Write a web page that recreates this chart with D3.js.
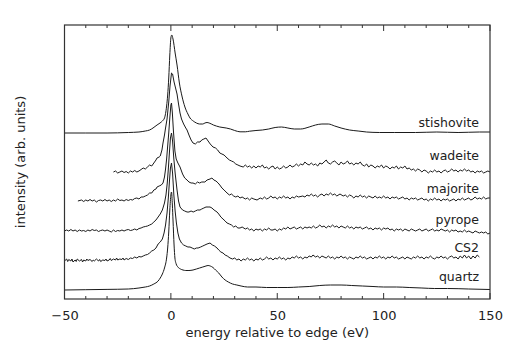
<!DOCTYPE html>
<html><head><meta charset="utf-8">
<script src="https://cdn.jsdelivr.net/npm/d3@7"></script>
<style>body{margin:0;background:#fff}svg{display:block}text{font-family:"DejaVu Sans",Verdana,sans-serif;fill:#222}</style>
</head><body><svg id="c" width="522" height="361"></svg>
<script>
// ---- data (energy eV, intensity relative to each spectrum's baseline) ----
const xTicks = [-50, 0, 50, 100, 150];
const seriesNames = ["stishovite", "wadeite", "majorite", "pyrope", "CS2", "quartz"];
const offsets = [166, 127, 98, 68, 38, 9];
const smooth = [true, false, false, false, false, true];

const stishovite = [[-50,0],[-40,0],[-30,0],[-20,0.5],[-15,1],[-12,2],[-10,3],[-8.4,5],[-6.5,8],[-5.1,10],[-4,12],[-3,15],[-2,27],[-1.5,38],[-1,55],[-0.5,78],[0,95],[0.4,98],[1,94],[2,80],[2.9,68],[4,50],[5.2,37],[6.6,26],[8,19],[9,15],[10.5,12],[12,10],[13.5,9],[15,9],[16,10],[17,10.5],[18,10],[20,8],[23,6],[26,5],[28,4],[30,2.5],[32.5,1.2],[35,1.2],[37,1.8],[40,2.5],[43,3],[46,4],[49,5.5],[52,6],[55,5],[58,4],[61,4],[65,6],[68,8],[71,9],[74,9],[77,7],[80,5],[84,3],[88,2],[92,1],[98,0.5],[105,0.5],[115,0.5],[125,1],[135,0.5],[145,1],[150,1]];

const wadeite = [[-27,0],[-26,1],[-25,-1],[-24,0],[-23,1],[-22,-0.5],[-21,0.5],[-20,-1],[-19,1],[-18,0],[-17,1.5],[-16,0],[-15,1],[-14,2.5],[-13,4],[-12,3],[-11,5],[-10,7],[-9,6],[-8,9],[-7,12],[-6.5,14],[-5.5,15],[-5,16],[-4.2,22],[-3.7,29],[-3,37],[-2.5,44],[-1.8,53],[-1,70],[-0.4,86],[0.3,99],[0.8,98],[1.5,90],[2.2,84],[2.9,78],[3.6,68],[4.3,59],[5,53],[6,48],[7,44],[7.6,42],[8.5,37],[9.5,32],[10.4,29],[11.5,28],[12.5,30],[13.7,30],[14.5,32],[15.5,33],[16.5,34],[17.5,31],[18.5,28],[19.8,25],[21,24],[22,22],[23,19],[24,18],[25,17],[26.4,14],[27.5,12],[28.5,11],[29.5,10],[30.5,8],[31.5,7],[32.5,6],[34,5],[35,7],[36,5],[37,6],[38,4],[39,6],[40,4],[41,6],[42,5],[43,7],[44,4],[45,5],[46,3],[47,5],[48,6],[49,3],[50,5],[51,3],[52,4],[53,6],[54,4],[55,5],[56,7],[57,5],[58,6],[59,8],[60,6],[61,8],[62,7],[63,10],[64,8],[65,7],[66,9],[67,7],[68,8],[69,6],[70,9],[71,8],[72,10],[73,12],[74,9],[75,8],[76,10],[77,11],[78,9],[79,7],[80,10],[81,8],[82,9],[83,11],[84,8],[85,9],[86,7],[87,9],[88,8],[89,10],[90,7],[91,6],[92,8],[93,5],[94,7],[95,6],[96,4],[97,6],[98,5],[99,7],[100,4],[101,6],[102,5],[103,3],[104,5],[105,4],[106,6],[107,3],[108,5],[109,4],[110,6],[111,3],[112,4],[113,2],[114,3],[115,1],[116,3],[117,2],[118,0],[119,2],[120,1],[121,-1],[122,1],[123,0],[124,2],[125,0],[126,1],[127,-1],[128,1],[129,2],[130,0],[131,1],[132,3],[133,1],[134,2],[135,0],[136,2],[137,1],[138,3],[139,1],[140,2],[141,0],[142,1],[143,-1],[144,1],[145,0],[146,1],[147,-1],[148,0],[149,1],[150,0]];

const majorite = [[-43.7,0],[-42,1],[-41,-0.5],[-40,1],[-39,0],[-38,1.5],[-37,0],[-36,1],[-35,-1],[-34,0.5],[-33,1],[-32,0],[-31,1.5],[-30,0],[-29,1],[-28,-0.5],[-27,1],[-26,0],[-25,2],[-24,0.5],[-23,1],[-22,0],[-21,1.5],[-20,0.5],[-19,1.5],[-18,1],[-17,2.5],[-16,3],[-15,2],[-14,4],[-13,4],[-12,5],[-11,6],[-10,8],[-9,8],[-8,11],[-7,12],[-6.5,14],[-5.5,15],[-4.5,16],[-3.7,18],[-3,24],[-2.5,32],[-2,42],[-1.5,55],[-1,68],[-0.5,83],[0,96],[0.3,98],[0.7,88],[1.2,70],[1.9,50],[2.5,42],[3.3,38],[4.3,34],[5.5,27],[6.5,23],[7.6,21],[8.5,19],[9.5,18],[10.4,18],[11.5,17],[12.5,19],[13.5,18],[14.5,19],[16,19],[17,21],[18.4,22],[19.3,23],[20.2,21],[21.2,20],[22.2,18],[23,16],[24,13],[25,11],[26.4,8],[27.5,6],[28.5,7],[29.5,5],[30.5,4],[31.5,5],[32.5,3],[33.5,4],[35,2],[36,3],[37,1],[38,3],[39,2],[40.5,1],[42,3],[43,2],[44,4],[45,2],[46,3],[47,5],[48,3],[49,4],[50,2],[51,4],[52,3],[53,5],[54,3],[55,4],[56,2],[57,4],[58,3],[59,5],[60,4],[62,5],[63,4],[64,6],[65,5],[66,7],[67,5],[68,6],[69,4],[70,6],[71,7],[72,5],[73,7],[74,6],[75,8],[76,6],[77,7],[78,5],[79.5,7],[81,5],[82,6],[83,4],[84,6],[85,5],[86,3],[87,5],[88,4],[89,6],[90,4],[91,5],[92,3],[93,5],[94,4],[95,3],[96,5],[97,3],[98,4],[99,3],[100,5],[101,3],[102,4],[103,2],[104,4],[105,3],[106,4],[107,2],[108,3],[109,4],[110,2],[111,3],[112,1],[113,3],[114,2],[115,3],[116,1],[117,2],[118,3],[119,1],[120,2],[121,0],[122,2],[123,1],[124,3],[125,1],[126,2],[127,0],[128,2],[129,1],[130,2],[131,0],[132,1],[133,2],[134,0],[135,2],[136,1],[137,3],[138,1],[139,2],[140,3],[141,1],[142,2],[143,4],[144,2],[145,3],[146,2],[147,4],[148,2],[149,3],[150,3]];

const pyrope = [[-50,0],[-49,1],[-48,0],[-47,1.5],[-46,0],[-45,1],[-44,-0.5],[-43,1],[-42,0],[-41,0.5],[-40,-0.5],[-39,1],[-38,0],[-37,1.5],[-36,0.5],[-35,1],[-34,-0.5],[-33,0.5],[-32,1],[-31,0],[-30,1],[-29,0],[-28,-1],[-27,1],[-26,-0.5],[-25,0.5],[-24,0],[-23,1],[-22,0],[-21,1],[-20,1.5],[-19,0.5],[-18,1],[-17,2],[-16,1],[-15,2.5],[-14,3],[-13,4],[-12,4.5],[-11,5],[-10,6],[-9,7],[-8,9],[-7,11],[-6,14],[-5,17],[-4,21],[-3,28],[-2.3,36],[-1.7,48],[-1.2,62],[-0.7,78],[-0.2,93],[0.3,98],[0.8,90],[1.4,72],[2,58],[2.9,41],[3.6,30],[4.3,24],[5.5,21],[6.5,20],[7.6,19],[8.5,19],[9.5,20],[10.5,19],[11.5,20],[12.5,21],[13.7,21],[14.5,22],[15.5,23],[16.5,24],[17.5,24],[18.4,24],[19.3,23],[20.3,21],[21.7,19],[22.5,17],[23.5,14],[24.5,12],[25.5,10],[26.4,8],[27.5,7],[28.5,6],[29.5,4],[30.5,5],[31.5,3],[32.5,3],[33.5,4],[35,2],[36,3],[37,1],[38,2],[39,0],[40,2],[41,1],[42,2],[43,0],[44,2],[45,1],[46,3],[47,1],[48,1],[49,2],[50,0],[51,2],[52,1],[53,3],[54,2],[55,4],[56,2],[57,3],[58,4],[59,2],[60,3],[61,4],[62,2],[63,4],[64,3],[65,4],[66,3],[67,5],[68,3],[69,4],[70,6],[71,4],[72,5],[73,3],[74,5],[75,4],[76,6],[77,4],[78,5],[79,3],[80,5],[81,4],[82,3],[83,5],[84,3],[85,4],[86,2],[87,4],[88,3],[89,4],[90,2],[91,3],[92,4],[93,2],[94,3],[95,1],[96,3],[97,2],[98,3],[99,1],[100,3],[101,2],[102,3],[103,1],[104,2],[105,0],[106,2],[107,1],[108,2],[109,0],[110,2],[111,1],[112,0],[113,2],[114,1],[115,0],[116,1],[117,2],[118,0],[119,1],[120,2],[121,0],[122,1],[123,2],[124,0],[125,1],[126,0],[127,2],[128,1],[129,0],[130,1],[131,-1],[132,1],[133,0],[134,1],[135,-1],[136,0],[137,-1],[138,1],[139,-1],[140,0],[141,-1],[142,-2],[143,0],[144,-1],[145,-2],[146,-1],[147,-2],[148,-1],[149,-3],[150,-2]];

const cs2 = [[-50,0],[-49,2],[-48.5,-0.5],[-48,1.5],[-47,0],[-46.5,2],[-46,-1],[-45,1],[-44.5,-0.5],[-44,2],[-43,0],[-42,1.5],[-41.5,-1],[-41,1],[-40,0],[-39.5,2],[-39,0.5],[-38,1.5],[-37,-0.5],[-36.5,1],[-36,0],[-35,2],[-34,0],[-33.5,1.5],[-33,-0.5],[-32,1],[-31,0.5],[-30.5,2],[-30,0],[-29,1],[-28.5,2.5],[-28,0.5],[-27,2],[-26,1],[-25.5,3],[-25,1],[-24,2],[-23,1.5],[-22.5,3],[-22,1],[-21,2.5],[-20,1.5],[-19,3],[-18,2.5],[-17,4],[-16,3],[-15,4.5],[-14,4],[-13,5],[-12,6],[-11,6.5],[-10,8],[-9,10],[-8,11],[-7,13],[-6,17],[-5,19],[-4,22],[-3.2,28],[-2.5,36],[-1.8,48],[-1.2,63],[-0.7,79],[-0.2,93],[0.3,98],[0.8,88],[1.4,66],[2,50],[2.6,38],[3.3,28],[4,22],[5,18],[6,16],[7,15],[8,14],[9,14],[10,13],[11,12],[12,13],[12.8,13],[14,14],[15,15],[16,16],[17,17],[18.4,18],[19.5,16],[20.5,15],[21.7,13],[22.5,11],[23.5,9],[24.5,8],[25.5,6],[26.5,5],[27.8,3],[29,2],[30,3],[31,1],[32,2],[33,0],[34,2],[35,1],[36,3],[37,1],[38,2],[39,0],[40,2],[41,1],[42,3],[43,1],[44,2],[45,4],[46,2],[47,3],[48,1],[49,3],[50,2],[51,4],[52,2],[53,3],[54,1],[55,3],[56,2],[57,4],[58,3],[59,5],[60,3],[61,4],[62,2],[63,4],[64,3],[65,5],[66,4],[66.8,6],[68,4],[69,5],[70,3],[71,5],[72,4],[73,3],[74,5],[75,3],[76,4],[77,2],[78,4],[79,3],[80,5],[81,3],[82,4],[83,2],[84,4],[85,3],[86,2],[87,4],[88,3],[89,5],[90,3],[91,4],[92,2],[93,3],[94,4],[95,2],[96,4],[97,3],[98,5],[99,3],[100,4],[101,2],[102,4],[103,3],[104,5],[105,3],[106,4],[107,2],[108,3],[109,4],[110,2],[111,4],[112,3],[113,2],[114,4],[115,3],[116,5],[117,3],[118,4],[119,2],[120,4],[121,3],[122,5],[123,3],[124,2],[125,4],[126,3],[127,5],[128,3],[129,4],[130,2],[131,4],[132,5],[133,3],[134,4],[135,2],[136,5],[137,3],[138,6],[139,3],[140,5],[141,2],[142,5],[143,3],[144,6],[145,4]];

const quartz = [[-50,0],[-40,0.3],[-30,0.6],[-20,1],[-15,2],[-12,3],[-10,4],[-8,6],[-6,9],[-5,12],[-4,16],[-3,22],[-2,32],[-1.5,42],[-1,58],[-0.5,80],[0,95],[0.3,98],[0.7,85],[1,70],[1.5,45],[1.9,32],[2.5,26],[3.3,23],[4.5,21],[5.7,20],[7,19.5],[8.5,19.5],[10.4,20],[12,21],[13.5,22],[15,23],[16.5,24],[17.5,24.5],[18.5,24],[19.8,22.5],[21,20],[22.5,17],[24,13],[25.5,10],[27,8],[29,6],[31,5],[33,4],[36,3],[40,3],[45,2.5],[50,2.5],[55,2.5],[60,3],[65,3.5],[70,4.5],[75,5],[80,5],[85,4.5],[90,4],[95,3.5],[100,3],[106,3],[112,2.5],[118,2],[124,1.5],[130,1.5],[140,1],[150,0.5]];

const spectra = [stishovite, wadeite, majorite, pyrope, cs2, quartz];

// ---- chart ----
const svg = d3.select("#c");
const L = 64.5, R = 490, T = 25, B = 299;
const x = d3.scaleLinear().domain([-50, 150]).range([L, R]);
const y = d3.scaleLinear().domain([0, B - T]).range([B, T]);

spectra.forEach((s, i) => {
  const line = d3.line()
    .x(d => x(d[0]))
    .y(d => y(d[1] + offsets[i]))
    .curve(smooth[i] ? d3.curveMonotoneX : d3.curveLinear);
  svg.append("path").datum(s).attr("d", line)
    .attr("fill", "none").attr("stroke", "#1a1a1a").attr("stroke-width", 1)
    .attr("stroke-linejoin", "round");
});

// frame
svg.append("rect").attr("x", L).attr("y", T).attr("width", R - L).attr("height", B - T)
  .attr("fill", "none").attr("stroke", "#333").attr("stroke-width", 1.2);

// axes: bottom labels; ticks inward on bottom and top
const minor = d3.range(-50, 151, 10);
const bottom = svg.append("g").attr("transform", `translate(0,${B})`)
  .call(d3.axisBottom(x).tickValues(xTicks).tickSize(0).tickPadding(12).tickFormat(d3.format("d")));
bottom.select(".domain").remove();
bottom.selectAll("text").attr("font-size", 13).attr("font-family", "DejaVu Sans, Verdana, sans-serif").attr("fill", "#222");

minor.forEach(v => {
  const len = xTicks.includes(v) ? 6 : 3;
  svg.append("line").attr("x1", x(v)).attr("x2", x(v)).attr("y1", B).attr("y2", B - len).attr("stroke", "#333");
  svg.append("line").attr("x1", x(v)).attr("x2", x(v)).attr("y1", T).attr("y2", T + len).attr("stroke", "#333");
});

// labels
svg.append("text").attr("x", (L + R) / 2).attr("y", 337).attr("text-anchor", "middle")
  .attr("font-size", 13).text("energy relative to edge (eV)");
svg.append("text").attr("transform", "translate(25,162) rotate(-90)").attr("text-anchor", "middle")
  .attr("font-size", 13).text("intensity (arb. units)");

const labelY = [127, 160, 193, 224, 252, 281];
seriesNames.forEach((n, i) => {
  svg.append("text").attr("x", 479).attr("y", labelY[i]).attr("text-anchor", "end")
    .attr("font-size", 12.5).text(n);
});
</script></body></html>
